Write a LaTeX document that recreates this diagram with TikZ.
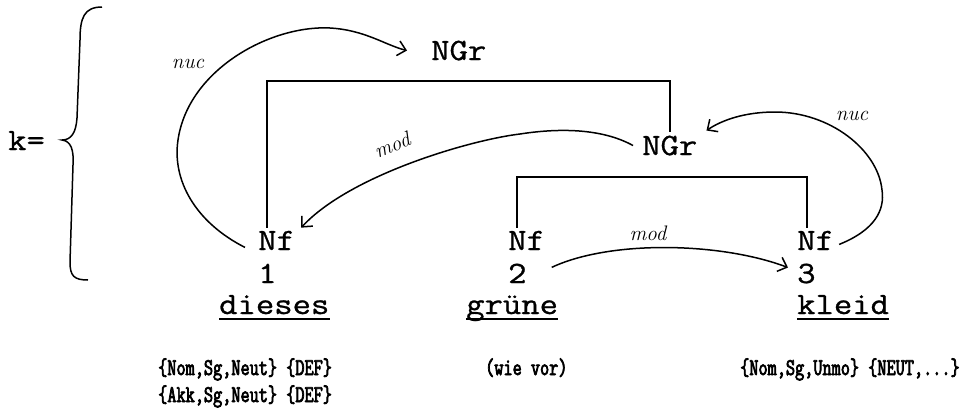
\documentclass[tikz,border=0pt]{standalone}
\usepackage{fontspec}
\newfontfamily\typefont[FakeStretch=1.15,FakeBold=0.9]{Latin Modern Mono}
\newfontfamily\dotfont[FakeStretch=0.74,FakeBold=3]{Latin Modern Mono}
\usetikzlibrary{arrows.meta}
\tikzset{
  lbl/.style={font=\typefont\fontsize{31}{36}\selectfont, inner sep=0pt, anchor=base west},
  word/.style={lbl},
  hand/.style={font=\itshape\fontsize{21}{22}\selectfont, inner sep=0pt},
  feat/.style={font=\dotfont\fontsize{24}{26}\selectfont, inner sep=0pt, anchor=base west},
  tree/.style={line width=2pt},
  arc/.style={line width=1.5pt, -{Straight Barb[length=8pt,width=15pt]}},
  ul/.style={line width=1.6pt},
  brace/.style={line width=1.5pt}
}
\begin{document}
\begin{tikzpicture}[x=1pt,y=-1pt]
\useasboundingbox[fill=white] (0,0) rectangle (966,416);

% k = and brace
\node[lbl] (k) at (8,150) {k=};
\draw[brace] (102,7) .. controls (84,7) and (80,18) .. (80,40) -- (77,118)
  .. controls (76,133) and (71,140) .. (62,140)
  .. controls (71,141) and (74,150) .. (73,165) -- (70,262)
  .. controls (70,276) and (74,280) .. (88,280);

% labels
\node[lbl] (ngr1) at (431,60) {NGr};
\node[lbl] (ngr2) at (642,155) {NGr};
\node[lbl] (nf1) at (258,250) {Nf};
\node[lbl] (nf2) at (508,250) {Nf};
\node[lbl] (nf3) at (797,250) {Nf};
\node[lbl] (n1) at (258,283) {1};
\node[lbl] (n2) at (508,283) {2};
\node[lbl] (n3) at (797,283) {3};
\node[word] (w1) at (219,314) {dieses};
\node[word] (w2) at (466,314) {grüne};
\node[word] (w3) at (797,314) {kleid};
\draw[ul] ([yshift=-5pt]w1.base west) -- ([yshift=-5pt]w1.base east);
\draw[ul] ([yshift=-5pt]w2.base west) -- ([yshift=-5pt]w2.base east);
\draw[ul] ([yshift=-5pt]w3.base west) -- ([yshift=-5pt]w3.base east);

% tree brackets
\coordinate (t1) at (470,81);
\coordinate (t2) at (660,177);
\draw[tree] ([shift={(9pt,3pt)}]nf1.north west) |- (t1) -| ([yshift=3pt]ngr2.north);
\draw[tree] ([shift={(9pt,3pt)}]nf2.north west) |- (t2) -| ([shift={(10pt,3pt)}]nf3.north west);

% arcs
\draw[arc] ([shift={(-13pt,-7pt)}]nf1.west) .. controls (195,222) and (172,180) .. (178,140)
  .. controls (188,70) and (270,25) .. (330,28)
  .. controls (365,30) and (385,45) .. ([xshift=-24pt]ngr1.west);
\node[hand] (l1) at (188,64) {nuc};

\draw[arc] ([xshift=-9pt]ngr2.west) .. controls (605,130) and (565,127) .. (520,134)
  .. controls (470,140) and (350,175) .. ([shift={(6pt,3pt)}]nf1.north east);
\node[hand, rotate=22] (l2) at (392,145) {mod};

\draw[arc] ([shift={(5pt,-4pt)}]nf3.east) .. controls (875,230) and (885,210) .. (882,190)
  .. controls (878,150) and (830,112) .. (775,112)
  .. controls (745,112) and (722,120) .. ([shift={(9pt,15pt)}]ngr2.east);
\node[hand] (l3) at (852,116) {nuc};

\draw[arc] ([shift={(25pt,6pt)}]n2.east) .. controls (610,240) and (720,242) .. ([shift={(-9pt,6pt)}]n3.west);
\node[hand] (l4) at (648,233) {mod};

% feature texts
\node[feat] (f1) at (158,375) {\{Nom,Sg,Neut\} \{DEF\}};
\node[feat] (f2) at (158,402) {\{Akk,Sg,Neut\} \{DEF\}};
\node[feat] (f3) at (485,375) {(wie vor)};
\node[feat] (f4) at (740,375) {\{Nom,Sg,Unmo\} \{NEUT,...\}};
\end{tikzpicture}
\end{document}
